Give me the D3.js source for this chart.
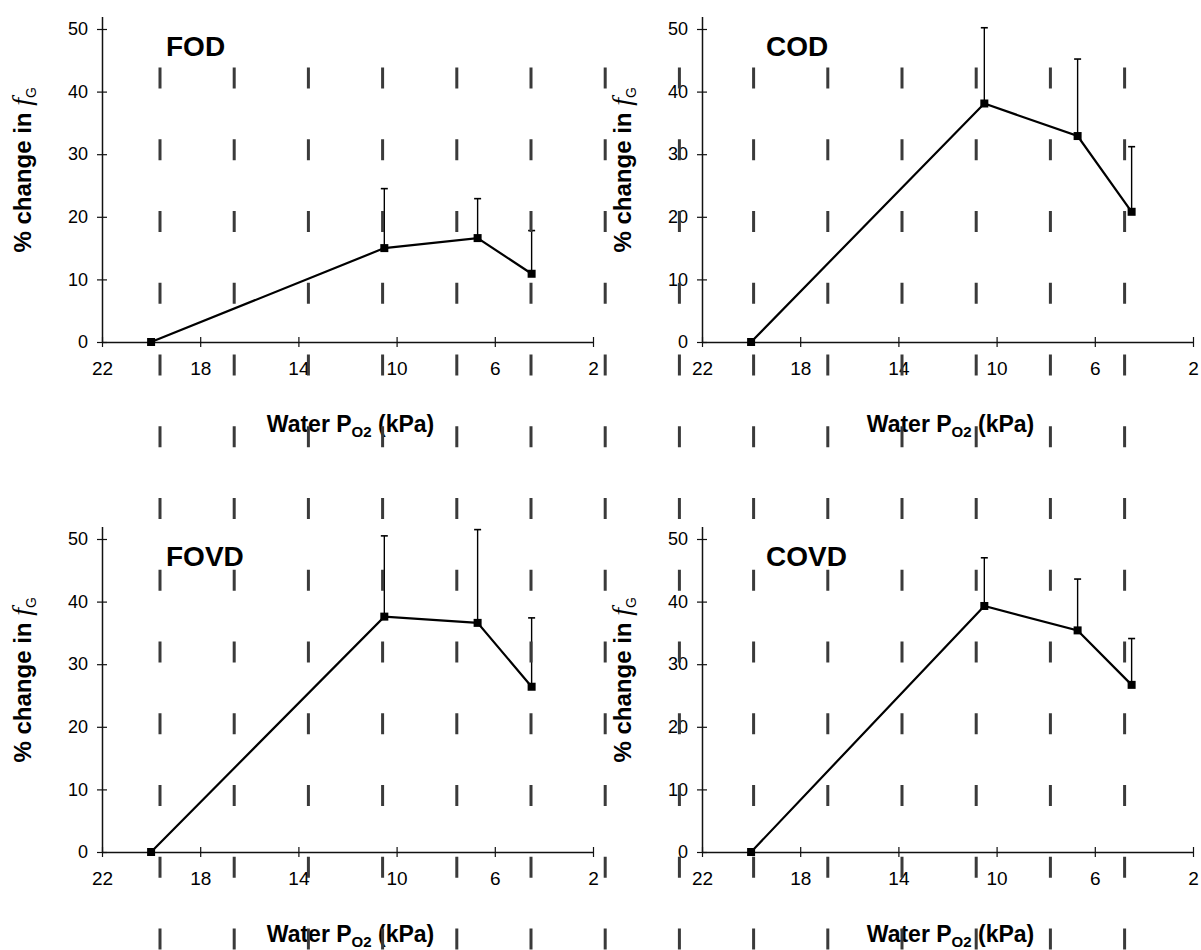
<!DOCTYPE html>
<html>
<head>
<meta charset="utf-8">
<script src="https://cdn.jsdelivr.net/npm/d3@7"></script>
<style>
  body { margin: 0; background: #fff; }
  svg { display: block; }
  text { font-family: "Liberation Sans", Arial, sans-serif; fill: #000; }
</style>
</head>
<body>
<svg id="chart"></svg>
<script>
var width = 1201;
var height = 950;

// data
var xTicks = [22, 18, 14, 10, 6, 2];
var yTicks = [0, 10, 20, 30, 40, 50];
var po2 = [20, 10.5, 6.7, 4.5];
var panelNames = ["FOD", "COD", "FOVD", "COVD"];
var fodMean = [0, 15.0, 16.6, 10.9];
var fodErr = [0, 9.5, 6.3, 6.9];
var codMean = [0, 38.1, 32.9, 20.8];
var codErr = [0, 12.1, 12.3, 10.4];
var fovdMean = [0, 37.6, 36.6, 26.4];
var fovdErr = [0, 12.9, 14.9, 11.0];
var covdMean = [0, 39.3, 35.4, 26.7];
var covdErr = [0, 7.7, 8.2, 7.4];

var means = [fodMean, codMean, fovdMean, covdMean];
var errs = [fodErr, codErr, fovdErr, covdErr];

// panel placement (left edge of plot, y of zero line)
var colX = [102, 702];
var rowY = [342, 852];
var plotW = 491;
var plotH = 313;   // 0 -> 50

var svg = d3.select("#chart")
  .attr("width", width)
  .attr("height", height);

svg.append("rect").attr("width", width).attr("height", height).attr("fill", "#fff");

////////////////////////////////////////////////////////////////////////////////
//                                                                    Panels //
////////////////////////////////////////////////////////////////////////////////

panelNames.forEach(function(name, i) {
  var left = colX[i % 2];
  var base = rowY[Math.floor(i / 2)];

  var x = d3.scaleLinear().domain([22, 2]).range([0, plotW]);
  var y = d3.scaleLinear().domain([0, 50]).range([0, -plotH]);

  var g = svg.append("g").attr("transform", "translate(" + left + "," + base + ")");

  // x axis
  var xAxis = g.append("g")
    .call(d3.axisBottom(x).tickValues(xTicks).tickSize(5).tickSizeOuter(0).tickPadding(15));
  xAxis.select(".domain").attr("stroke", "#111").attr("stroke-width", 1.5);
  xAxis.selectAll(".tick line").attr("y1", -5).attr("stroke", "#111").attr("stroke-width", 1.2);
  xAxis.selectAll(".tick text").attr("font-size", 19).attr("font-family", "Liberation Sans, Arial, sans-serif");

  // y axis (runs a little above 50)
  var yAxis = g.append("g")
    .call(d3.axisLeft(d3.scaleLinear().domain([0, 52]).range([0, y(52)]))
      .tickValues(yTicks).tickSize(5).tickSizeOuter(0).tickPadding(9));
  yAxis.select(".domain").attr("stroke", "#111").attr("stroke-width", 1.5);
  yAxis.selectAll(".tick line").attr("x1", 5).attr("stroke", "#111").attr("stroke-width", 1.2);
  yAxis.selectAll(".tick text").attr("font-size", 18).attr("font-family", "Liberation Sans, Arial, sans-serif");

  // panel title
  g.append("text")
    .attr("x", 64).attr("y", y(50) + 27)
    .attr("font-size", 28).attr("font-weight", "bold")
    .text(name);

  // y label
  var yl = g.append("text")
    .attr("transform", "translate(-71," + (y(27.5)) + ") rotate(-90)")
    .attr("text-anchor", "middle")
    .attr("font-size", 24).attr("font-weight", "bold");
  yl.append("tspan").text("% change in  ");
  yl.append("tspan").attr("font-family", "Liberation Serif, Times New Roman, serif")
    .attr("font-style", "italic").attr("font-weight", "normal").attr("font-size", 28).text("f");
  yl.append("tspan").attr("font-size", 14).attr("font-weight", "normal").attr("dy", 5).text("G");

  // x label
  var xl = g.append("text")
    .attr("x", plotW / 2 + 3).attr("y", 90)
    .attr("text-anchor", "middle")
    .attr("font-size", 23).attr("font-weight", "bold");
  xl.append("tspan").text("Water P");
  xl.append("tspan").attr("font-size", 15).attr("dy", 5).text("O2");
  xl.append("tspan").attr("dy", -5).text(" (kPa)");

  var pts = po2.map(function(p, k) { return {x: p, m: means[i][k], e: errs[i][k]}; });

  // error bars (upper only)
  var eb = g.selectAll(".err").data(pts.filter(function(d) { return d.e > 0; }))
    .enter().append("g");
  eb.append("line")
    .attr("x1", function(d) { return x(d.x); }).attr("x2", function(d) { return x(d.x); })
    .attr("y1", function(d) { return y(d.m); }).attr("y2", function(d) { return y(d.m + d.e); })
    .attr("stroke", "#000").attr("stroke-width", 1.4);
  eb.append("line")
    .attr("x1", function(d) { return x(d.x) - 3.5; }).attr("x2", function(d) { return x(d.x) + 3.5; })
    .attr("y1", function(d) { return y(d.m + d.e); }).attr("y2", function(d) { return y(d.m + d.e); })
    .attr("stroke", "#000").attr("stroke-width", 1.6);

  // mean line
  g.append("path")
    .datum(pts)
    .attr("fill", "none").attr("stroke", "#000").attr("stroke-width", 2.2)
    .attr("d", d3.line().x(function(d) { return x(d.x); }).y(function(d) { return y(d.m); }));

  // markers
  g.selectAll(".pt").data(pts).enter().append("rect")
    .attr("x", function(d) { return x(d.x) - 4; })
    .attr("y", function(d) { return y(d.m) - 4; })
    .attr("width", 8).attr("height", 8)
    .attr("fill", "#000");
});

////////////////////////////////////////////////////////////////////////////////
//                                                 Scanner streaks (on top) //
////////////////////////////////////////////////////////////////////////////////

var streakCols = d3.range(14).map(function(i) { return 160 + i * 74.2; });
var streakRows = d3.range(13).map(function(j) { return 67.5 + j * 71.75; });

var streaks = svg.append("g");
streakRows.forEach(function(ry) {
  streaks.selectAll(null).data(streakCols).enter().append("rect")
    .attr("x", function(cx) { return cx - 1.5; })
    .attr("y", ry)
    .attr("width", 3).attr("height", 21)
    .attr("fill", "#3a3a3a");
});
</script>
</body>
</html>
